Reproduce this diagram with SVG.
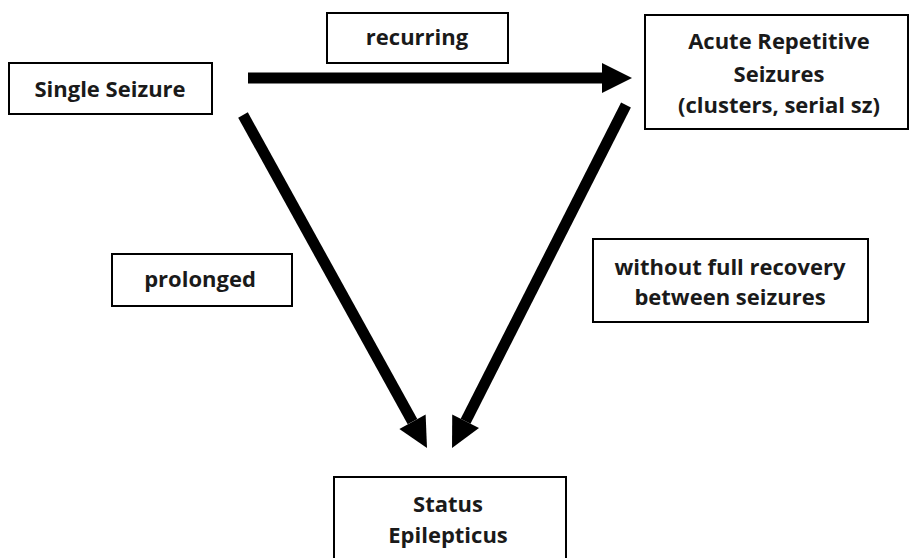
<svg xmlns="http://www.w3.org/2000/svg" width="910" height="558" viewBox="0 0 910 558">
<style>
.box{fill:#fff;stroke:#000;stroke-width:2}
.t{font-family:"Open Sans","Liberation Sans",sans-serif;font-weight:bold;font-size:22px;fill:#1a1a1a;text-anchor:middle}
.arr{stroke:#000;stroke-width:11;fill:none}
</style>
<defs>
<marker id="head" markerUnits="userSpaceOnUse" markerWidth="31" markerHeight="31" refX="0" refY="15" orient="auto" viewBox="0 0 31 30" overflow="visible">
<path d="M0,0 L30,15 L0,30 Z" fill="#000"/>
</marker>
</defs>
<rect width="910" height="558" fill="#fff"/>
<g id="connectors">
<line class="arr" x1="248" y1="78" x2="602" y2="78" marker-end="url(#head)"/>
<line class="arr" x1="243" y1="115" x2="412.5" y2="421.7" marker-end="url(#head)"/>
<line class="arr" x1="626" y1="105" x2="465.6" y2="421.2" marker-end="url(#head)"/>
</g>
<g id="single-seizure">
<rect class="box" x="9" y="63" width="203" height="51"/>
<text class="t" x="110" y="97">Single Seizure</text>
</g>
<g id="recurring">
<rect class="box" x="327" y="13" width="181" height="50"/>
<text class="t" x="417" y="45">recurring</text>
</g>
<g id="acute-repetitive">
<rect class="box" x="645" y="15" width="263" height="114"/>
<text class="t" x="779" y="49">Acute Repetitive</text>
<text class="t" x="779" y="82">Seizures</text>
<text class="t" x="779" y="113">(clusters, serial sz)</text>
</g>
<g id="prolonged">
<rect class="box" x="112" y="254" width="180" height="52"/>
<text class="t" x="200" y="287">prolonged</text>
</g>
<g id="without-recovery">
<rect class="box" x="593" y="239" width="275" height="83"/>
<text class="t" x="730" y="275">without full recovery</text>
<text class="t" x="730" y="305">between seizures</text>
</g>
<g id="status-epilepticus">
<rect class="box" x="334" y="477" width="232" height="90"/>
<text class="t" x="448" y="512">Status</text>
<text class="t" x="448" y="543">Epilepticus</text>
</g>
</svg>
